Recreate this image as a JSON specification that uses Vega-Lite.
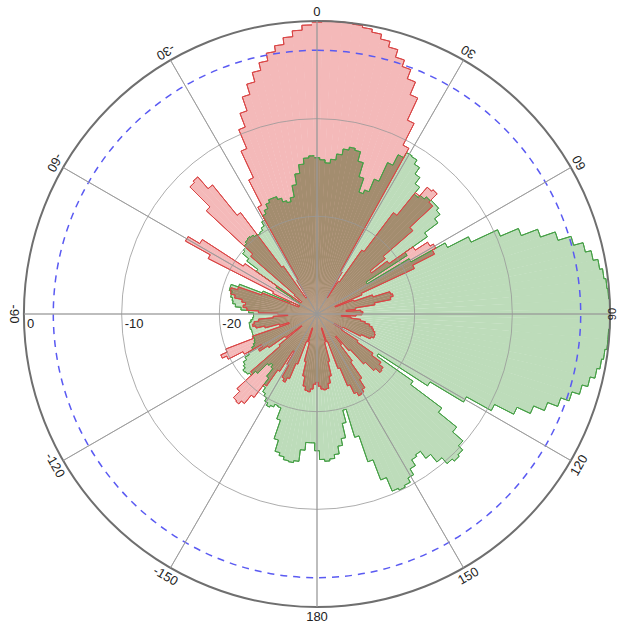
{
  "$schema": "https://vega.github.io/schema/vega-lite/v6.json",
  "width": 596,
  "height": 596,
  "autosize": {"type": "none"},
  "padding": {"left": 19, "top": 16, "right": 3, "bottom": 13},
  "background": "white",
  "config": {"view": {"stroke": null}},
  "datasets": {
    "pattern": [
      {"angle":0,"p1":-0.1,"p2":-14},{"angle":2,"p1":0,"p2":-14.2},{"angle":4,"p1":0,"p2":-14.5},{"angle":6,"p1":0,"p2":-14.1},
      {"angle":8,"p1":-0.1,"p2":-13.5},{"angle":10,"p1":-0.3,"p2":-12.9},{"angle":12,"p1":-0.6,"p2":-12.6},{"angle":14,"p1":-1.1,"p2":-12.8},
      {"angle":16,"p1":-1.7,"p2":-13.8},{"angle":18,"p1":-2.5,"p2":-15.3},{"angle":20,"p1":-3.2,"p2":-16.8},{"angle":22,"p1":-4.2,"p2":-16.4},
      {"angle":24,"p1":-5.6,"p2":-15},{"angle":26,"p1":-8.1,"p2":-12.9},{"angle":28,"p1":-10.6,"p2":-11.7},{"angle":30,"p1":-25,"p2":-11.1},
      {"angle":32,"p1":-28,"p2":-11.2},{"angle":34,"p1":-26,"p2":-11.7},{"angle":36,"p1":-22,"p2":-12.5},{"angle":38,"p1":-17,"p2":-13.3},
      {"angle":40,"p1":-14,"p2":-14.2},{"angle":42,"p1":-12.8,"p2":-13.9},{"angle":44,"p1":-12.6,"p2":-13.6},{"angle":46,"p1":-13.8,"p2":-13.5},
      {"angle":48,"p1":-17,"p2":-13.5},{"angle":50,"p1":-21,"p2":-13.8},{"angle":52,"p1":-23,"p2":-14.5},{"angle":54,"p1":-21,"p2":-16.2},
      {"angle":56,"p1":-18,"p2":-19},{"angle":58,"p1":-16.5,"p2":-24},{"angle":60,"p1":-16.1,"p2":-19},{"angle":62,"p1":-16.5,"p2":-15},
      {"angle":64,"p1":-19,"p2":-12.6},{"angle":66,"p1":-25,"p2":-9.6},{"angle":68,"p1":-28,"p2":-7.6},{"angle":70,"p1":-26,"p2":-5.8},
      {"angle":72,"p1":-24,"p2":-4.2},{"angle":74,"p1":-22.2,"p2":-2.8},{"angle":76,"p1":-22,"p2":-1.8},{"angle":78,"p1":-22.3,"p2":-1.2},
      {"angle":80,"p1":-24,"p2":-0.7},{"angle":82,"p1":-26,"p2":-0.4},{"angle":84,"p1":-27,"p2":-0.2},{"angle":86,"p1":-25.5,"p2":-0.1},
      {"angle":88,"p1":-25.3,"p2":0},{"angle":90,"p1":-25.4,"p2":0},{"angle":92,"p1":-26,"p2":0},{"angle":94,"p1":-27.5,"p2":-0.1},
      {"angle":96,"p1":-26.5,"p2":-0.1},{"angle":98,"p1":-25.5,"p2":-0.3},{"angle":100,"p1":-25,"p2":-0.5},{"angle":102,"p1":-24.5,"p2":-0.8},
      {"angle":104,"p1":-24.2,"p2":-1.3},{"angle":106,"p1":-24,"p2":-1.9},{"angle":108,"p1":-23.8,"p2":-2.7},{"angle":110,"p1":-23.7,"p2":-3.6},
      {"angle":112,"p1":-23.7,"p2":-4.7},{"angle":114,"p1":-24,"p2":-5.9},{"angle":116,"p1":-25,"p2":-7.4},{"angle":118,"p1":-27,"p2":-9.6},
      {"angle":120,"p1":-28,"p2":-12.5},{"angle":122,"p1":-27,"p2":-16.5},{"angle":124,"p1":-25,"p2":-22.5},{"angle":126,"p1":-23,"p2":-18},
      {"angle":128,"p1":-21.8,"p2":-14},{"angle":130,"p1":-21.3,"p2":-11.6},{"angle":132,"p1":-21.2,"p2":-10.2},{"angle":134,"p1":-21.8,"p2":-9.6},
      {"angle":136,"p1":-23,"p2":-9.4},{"angle":138,"p1":-25,"p2":-9.7},{"angle":140,"p1":-27,"p2":-10.5},{"angle":142,"p1":-26,"p2":-11.5},
      {"angle":144,"p1":-24,"p2":-12.4},{"angle":146,"p1":-22,"p2":-12.2},{"angle":148,"p1":-21,"p2":-11.5},{"angle":150,"p1":-20.7,"p2":-10.8},
      {"angle":152,"p1":-20.6,"p2":-10.3},{"angle":154,"p1":-21,"p2":-10.1},{"angle":156,"p1":-22,"p2":-10.3},{"angle":158,"p1":-24,"p2":-11.8},
      {"angle":160,"p1":-27,"p2":-14},{"angle":162,"p1":-28.5,"p2":-16.8},{"angle":164,"p1":-27,"p2":-19.8},{"angle":166,"p1":-25,"p2":-18.5},
      {"angle":168,"p1":-23.5,"p2":-17},{"angle":170,"p1":-22.8,"p2":-16.3},{"angle":172,"p1":-22.3,"p2":-15.5},{"angle":174,"p1":-22.2,"p2":-15.1},
      {"angle":176,"p1":-22.3,"p2":-14.9},{"angle":178,"p1":-22.6,"p2":-15.1},{"angle":180,"p1":-23,"p2":-16},{"angle":182,"p1":-22.8,"p2":-16.8},
      {"angle":184,"p1":-22.3,"p2":-16.8},{"angle":186,"p1":-22,"p2":-16},{"angle":188,"p1":-22.1,"p2":-14.8},{"angle":190,"p1":-22.5,"p2":-14.6},
      {"angle":192,"p1":-23.5,"p2":-14.7},{"angle":194,"p1":-25,"p2":-15},{"angle":196,"p1":-27,"p2":-15.3},{"angle":198,"p1":-28.5,"p2":-16.5},
      {"angle":200,"p1":-27,"p2":-18.5},{"angle":202,"p1":-24.5,"p2":-19.7},{"angle":204,"p1":-22.8,"p2":-19.8},{"angle":206,"p1":-22.3,"p2":-19.5},
      {"angle":208,"p1":-22.6,"p2":-19.3},{"angle":210,"p1":-24,"p2":-19.6},{"angle":212,"p1":-25.5,"p2":-20},{"angle":214,"p1":-23,"p2":-20.3},
      {"angle":216,"p1":-21,"p2":-20.8},{"angle":218,"p1":-19.3,"p2":-21.8},{"angle":220,"p1":-18.2,"p2":-22.8},{"angle":222,"p1":-17.8,"p2":-23.1},
      {"angle":224,"p1":-17.9,"p2":-22.8},{"angle":226,"p1":-18.8,"p2":-21.4},{"angle":228,"p1":-21,"p2":-20.8},{"angle":230,"p1":-25,"p2":-20.6},
      {"angle":232,"p1":-28,"p2":-20.5},{"angle":234,"p1":-26,"p2":-20.8},{"angle":236,"p1":-24,"p2":-21},{"angle":238,"p1":-23,"p2":-21.4},
      {"angle":240,"p1":-23.5,"p2":-21.9},{"angle":242,"p1":-21.5,"p2":-22.5},{"angle":244,"p1":-19.8,"p2":-22.8},{"angle":246,"p1":-19.3,"p2":-23},
      {"angle":248,"p1":-20,"p2":-23.1},{"angle":250,"p1":-23,"p2":-23.1},{"angle":252,"p1":-27,"p2":-23.1},{"angle":254,"p1":-26,"p2":-23.1},
      {"angle":256,"p1":-24.5,"p2":-23.1},{"angle":258,"p1":-23.6,"p2":-23},{"angle":260,"p1":-23.3,"p2":-23},{"angle":262,"p1":-23.5,"p2":-23},
      {"angle":264,"p1":-24,"p2":-23.2},{"angle":266,"p1":-25.5,"p2":-23.4},{"angle":268,"p1":-27,"p2":-23.5},{"angle":270,"p1":-26,"p2":-23.5},
      {"angle":272,"p1":-24,"p2":-23},{"angle":274,"p1":-22.8,"p2":-22.2},{"angle":276,"p1":-22.4,"p2":-21.6},{"angle":278,"p1":-22.6,"p2":-21.3},
      {"angle":280,"p1":-22.2,"p2":-21.2},{"angle":282,"p1":-21.4,"p2":-21},{"angle":284,"p1":-20.9,"p2":-21},{"angle":286,"p1":-20.8,"p2":-20.7},
      {"angle":288,"p1":-21.5,"p2":-20.7},{"angle":290,"p1":-24,"p2":-21.5},{"angle":292,"p1":-28,"p2":-24},{"angle":294,"p1":-28,"p2":-27},
      {"angle":296,"p1":-25,"p2":-28},{"angle":298,"p1":-17.5,"p2":-28},{"angle":300,"p1":-14.6,"p2":-28},{"angle":302,"p1":-16,"p2":-27},
      {"angle":304,"p1":-21,"p2":-25},{"angle":306,"p1":-28,"p2":-22.4},{"angle":308,"p1":-28,"p2":-21},{"angle":310,"p1":-27,"p2":-20.2},
      {"angle":312,"p1":-21,"p2":-20},{"angle":314,"p1":-14.5,"p2":-19.8},{"angle":316,"p1":-11.6,"p2":-19.6},{"angle":318,"p1":-11.4,"p2":-19.5},
      {"angle":320,"p1":-13,"p2":-19.6},{"angle":322,"p1":-17,"p2":-19.8},{"angle":324,"p1":-24,"p2":-19.9},{"angle":326,"p1":-28,"p2":-19.8},
      {"angle":328,"p1":-28,"p2":-19.5},{"angle":330,"p1":-26,"p2":-19},{"angle":332,"p1":-17.5,"p2":-18.5},{"angle":334,"p1":-14.6,"p2":-18.1},
      {"angle":336,"p1":-11.6,"p2":-17.6},{"angle":338,"p1":-9.5,"p2":-17.3},{"angle":340,"p1":-8,"p2":-17.3},{"angle":342,"p1":-6.5,"p2":-17.6},
      {"angle":344,"p1":-5.4,"p2":-18},{"angle":346,"p1":-4.4,"p2":-18.2},{"angle":348,"p1":-3.6,"p2":-17.8},{"angle":350,"p1":-2.8,"p2":-16.6},
      {"angle":352,"p1":-2.2,"p2":-15.5},{"angle":354,"p1":-1.5,"p2":-14.6},{"angle":356,"p1":-0.9,"p2":-14},{"angle":358,"p1":-0.4,"p2":-13.8}
    ],
    "ticks": [
      {"deg":0,"label":"0"},{"deg":30,"label":"30"},{"deg":60,"label":"60"},
      {"deg":120,"label":"120"},{"deg":150,"label":"150"},{"deg":180,"label":"180"},{"deg":210,"label":"-150"},
      {"deg":240,"label":"-120"},{"deg":270,"label":"-90"},{"deg":300,"label":"-60"},{"deg":330,"label":"-30"}
    ],
    "edge": [{"deg":90,"label":"90"}]
  },
  "layer": [
    {
      "data": {"name": "pattern"},
      "mark": {"type": "arc", "fill": "#bddcba", "stroke": null, "thetaOffset": -0.0185, "theta2Offset": 0.0185},
      "encoding": {
        "theta": {"field": "angle", "type": "quantitative", "stack": null, "scale": {"domain": [0, 360], "range": [0, 6.283185307]}},
        "theta2": {"field": "angle"},
        "radius": {"field": "p2", "type": "quantitative", "scale": {"type": "linear", "domain": [-30, 0], "range": [0, 293], "zero": false}},
        "radius2": {"value": 0}
      }
    },
    {
      "data": {"name": "pattern"},
      "mark": {"type": "arc", "fill": "#f4b9b9", "stroke": null, "thetaOffset": -0.0185, "theta2Offset": 0.0185},
      "encoding": {
        "theta": {"field": "angle", "type": "quantitative", "stack": null},
        "theta2": {"field": "angle"},
        "radius": {"field": "p1", "type": "quantitative"},
        "radius2": {"value": 0}
      }
    },
    {
      "data": {"name": "pattern"},
      "transform": [
        {"fold": ["p1", "p2"], "as": ["series", "level"]},
        {"aggregate": [{"op": "min", "field": "level", "as": "both"}], "groupby": ["angle"]}
      ],
      "mark": {"type": "arc", "fill": "#a38d6f", "stroke": null, "thetaOffset": -0.0185, "theta2Offset": 0.0185},
      "encoding": {
        "theta": {"field": "angle", "type": "quantitative", "stack": null},
        "theta2": {"field": "angle"},
        "radius": {"field": "both", "type": "quantitative"},
        "radius2": {"value": 0}
      }
    },
    {
      "data": {"name": "pattern"},
      "mark": {"type": "arc", "filled": false, "stroke": "#46a046", "strokeWidth": 1, "thetaOffset": -0.01745, "theta2Offset": 0.01745},
      "encoding": {
        "theta": {"field": "angle", "type": "quantitative", "stack": null},
        "theta2": {"field": "angle"},
        "radius": {"field": "p2", "type": "quantitative"},
        "radius2": {"field": "p2"}
      }
    },
    {
      "data": {"name": "pattern"},
      "transform": [
        {"window": [{"op": "lag", "field": "p2", "as": "prev"}], "sort": [{"field": "angle", "order": "ascending"}]},
        {"filter": "isValid(datum.prev)"}
      ],
      "mark": {"type": "arc", "filled": false, "stroke": "#46a046", "strokeWidth": 1, "thetaOffset": -0.01745, "theta2Offset": -0.01745},
      "encoding": {
        "theta": {"field": "angle", "type": "quantitative", "stack": null},
        "theta2": {"field": "angle"},
        "radius": {"field": "p2", "type": "quantitative"},
        "radius2": {"field": "prev"}
      }
    },
    {
      "data": {"name": "pattern"},
      "mark": {"type": "arc", "filled": false, "stroke": "#da4646", "strokeWidth": 1, "thetaOffset": -0.01745, "theta2Offset": 0.01745},
      "encoding": {
        "theta": {"field": "angle", "type": "quantitative", "stack": null},
        "theta2": {"field": "angle"},
        "radius": {"field": "p1", "type": "quantitative"},
        "radius2": {"field": "p1"}
      }
    },
    {
      "data": {"name": "pattern"},
      "transform": [
        {"window": [{"op": "lag", "field": "p1", "as": "prev"}], "sort": [{"field": "angle", "order": "ascending"}]},
        {"filter": "isValid(datum.prev)"}
      ],
      "mark": {"type": "arc", "filled": false, "stroke": "#da4646", "strokeWidth": 1, "thetaOffset": -0.01745, "theta2Offset": -0.01745},
      "encoding": {
        "theta": {"field": "angle", "type": "quantitative", "stack": null},
        "theta2": {"field": "angle"},
        "radius": {"field": "p1", "type": "quantitative"},
        "radius2": {"field": "prev"}
      }
    },
    {
      "data": {"values": [{"ring": "a"}]},
      "mark": {"type": "arc", "fill": "transparent", "stroke": "#999999", "strokeOpacity": 0.8, "strokeWidth": 1, "theta": 0, "theta2": 6.2832},
      "encoding": {
        "radius": {"datum": -20, "type": "quantitative"},
        "radius2": {"value": 0}
      }
    },
    {
      "data": {"values": [{"ring": "b"}]},
      "mark": {"type": "arc", "fill": "transparent", "stroke": "#999999", "strokeOpacity": 0.8, "strokeWidth": 1, "theta": 0, "theta2": 6.2832},
      "encoding": {
        "radius": {"datum": -10, "type": "quantitative"},
        "radius2": {"value": 0}
      }
    },
    {
      "data": {"values": [{"ring": "c"}]},
      "mark": {"type": "arc", "fill": "transparent", "stroke": "#5a5af2", "strokeWidth": 1.5, "strokeDash": [7, 6], "theta": 0, "theta2": 6.2832},
      "encoding": {
        "radius": {"datum": -3, "type": "quantitative"},
        "radius2": {"value": 0}
      }
    },
    {
      "data": {"values": [{"ring": "d"}]},
      "mark": {"type": "arc", "fill": "transparent", "stroke": "#6f6f6f", "strokeWidth": 2, "theta": 0, "theta2": 6.2832},
      "encoding": {
        "radius": {"datum": 0, "type": "quantitative"},
        "radius2": {"value": 0}
      }
    },
    {
      "data": {"name": "ticks"},
      "mark": {"type": "arc", "fill": "transparent", "stroke": "#999999", "strokeOpacity": 0.8, "strokeWidth": 1},
      "encoding": {
        "theta": {"field": "deg", "type": "quantitative", "stack": null},
        "theta2": {"field": "deg"},
        "radius": {"datum": 0, "type": "quantitative"},
        "radius2": {"value": 0}
      }
    },
    {
      "data": {"name": "edge"},
      "mark": {"type": "arc", "fill": "transparent", "stroke": "#999999", "strokeOpacity": 0.8, "strokeWidth": 1},
      "encoding": {
        "theta": {"field": "deg", "type": "quantitative", "stack": null},
        "theta2": {"field": "deg"},
        "radius": {"datum": 0, "type": "quantitative"},
        "radius2": {"value": 0}
      }
    },
    {
      "data": {"name": "ticks"},
      "mark": {"type": "text", "align": "center", "baseline": "middle", "font": "Liberation Sans", "fontSize": 13, "fill": "#222222"},
      "encoding": {
        "theta": {"field": "deg", "type": "quantitative", "stack": null},
        "radius": {"datum": 1, "type": "quantitative"},
        "angle": {"field": "deg", "type": "quantitative", "scale": {"domain": [0, 360], "range": [180, 540]}, "legend": null},
        "text": {"field": "label"}
      }
    },
    {
      "data": {"name": "edge"},
      "mark": {"type": "text", "align": "center", "baseline": "middle", "font": "Liberation Sans", "fontSize": 11, "fill": "#222222", "angle": 270},
      "encoding": {
        "theta": {"field": "deg", "type": "quantitative", "stack": null},
        "radius": {"datum": 0.35, "type": "quantitative"},
        "text": {"field": "label"}
      }
    },
    {
      "data": {"values": [{"level": 0, "label": "0"}, {"level": -10, "label": "-10"}, {"level": -20, "label": "-20"}]},
      "mark": {"type": "text", "align": "left", "baseline": "middle", "dx": 3, "dy": 10, "font": "Liberation Sans", "fontSize": 13, "fill": "#222222"},
      "encoding": {
        "theta": {"datum": 270, "type": "quantitative"},
        "radius": {"field": "level", "type": "quantitative"},
        "text": {"field": "label"}
      }
    }
  ]
}
